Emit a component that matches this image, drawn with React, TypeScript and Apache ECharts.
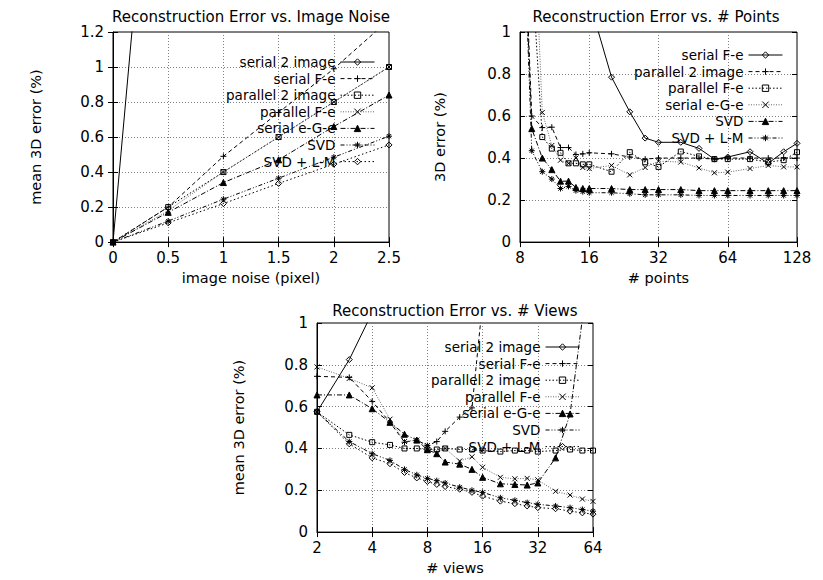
import React, { useEffect, useRef } from 'react';
import * as echarts from 'echarts';

const FONT = '"DejaVu Sans", "Liberation Sans", sans-serif';

// ---------- Plot 1: Reconstruction Error vs. Image Noise ----------
const noiseTicks = [0, 0.5, 1, 1.5, 2, 2.5];
const noiseYTicks = [0, 0.2, 0.4, 0.6, 0.8, 1.0, 1.2];
const noiseX = [0, 0.5, 1, 1.5, 2, 2.5];
const noiseSerial2Image = [0, 3.5, 7.1, 10.6, 14.1, 17.6];
const noiseSerialFe = [0, 0.2, 0.49, 0.74, 0.99, 1.27];
const noiseParallel2Image = [0, 0.2, 0.4, 0.6, 0.8, 1.0];
const noiseParallelFe = [0, 0.18, 0.4, 0.6, 0.8, 1.0];
const noiseSerialEGe = [0, 0.17, 0.34, 0.47, 0.66, 0.84];
const noiseSVD = [0, 0.12, 0.245, 0.365, 0.485, 0.605];
const noiseSVDLM = [0, 0.11, 0.22, 0.335, 0.445, 0.555];
const noiseNames = ['serial 2 image', 'serial F-e', 'parallel 2 image', 'parallel F-e', 'serial e-G-e', 'SVD', 'SVD + L-M'];

// ---------- Plot 2: Reconstruction Error vs. # Points ----------
const pointsTicks = [8, 16, 32, 64, 128];
const errTicks = [0, 0.2, 0.4, 0.6, 0.8, 1.0];
const pointsX = [8, 9, 10, 11, 12, 13, 14, 15, 16, 20, 24, 28, 32, 40, 48, 56, 64, 80, 96, 112, 128];
const ptsSerialFe = [null, null, null, null, null, null, null, null, 1.15, 0.785, 0.62, 0.495, 0.475, 0.475, 0.446, 0.395, 0.405, 0.43, 0.375, 0.43, 0.47];
const ptsParallel2Image = [2.0, 0.6, 0.545, 0.547, 0.45, 0.45, 0.417, 0.42, 0.425, 0.42, 0.405, 0.395, 0.4, 0.4, 0.4, 0.395, 0.4, 0.4, 0.4, 0.4, 0.4];
const ptsParallelFe = [null, 1.3, 0.5, 0.445, 0.425, 0.375, 0.375, 0.37, 0.37, 0.335, 0.428, 0.38, 0.358, 0.431, 0.408, 0.395, 0.395, 0.395, 0.381, 0.39, 0.428];
const ptsSerialEGe = [null, 1.8, 0.617, 0.46, 0.39, 0.375, 0.4, 0.355, 0.35, 0.365, 0.32, 0.355, 0.385, 0.381, 0.353, 0.33, 0.333, 0.35, 0.365, 0.358, 0.358];
const ptsSVD = [2.0, 0.54, 0.4, 0.345, 0.29, 0.29, 0.26, 0.255, 0.255, 0.255, 0.25, 0.25, 0.25, 0.25, 0.245, 0.245, 0.245, 0.245, 0.245, 0.245, 0.245];
const ptsSVDLM = [2.0, 0.435, 0.335, 0.3, 0.255, 0.265, 0.245, 0.24, 0.235, 0.235, 0.23, 0.225, 0.225, 0.225, 0.222, 0.222, 0.222, 0.222, 0.222, 0.222, 0.222];
const pointsNames = ['serial F-e', 'parallel 2 image', 'parallel F-e', 'serial e-G-e', 'SVD', 'SVD + L-M'];

// ---------- Plot 3: Reconstruction Error vs. # Views ----------
const viewsTicks = [2, 4, 8, 16, 32, 64];
const viewsX = [2, 3, 4, 5, 6, 7, 8, 9, 10, 12, 14, 16, 20, 24, 28, 32, 40, 48, 56, 64];
const vwSerial2Image = [0.575, 0.825, 1.05, null, null, null, null, null, null, null, null, null, null, null, null, null, null, null, null, null];
const vwSerialFe = [0.745, 0.74, 0.625, 0.525, 0.43, 0.44, 0.414, 0.433, 0.482, 0.55, 0.594, 1.1, null, null, null, null, null, null, null, null];
const vwParallel2Image = [0.575, 0.465, 0.43, 0.417, 0.4, 0.4, 0.395, 0.395, 0.4, 0.395, 0.395, 0.39, 0.385, 0.39, 0.39, 0.385, 0.39, 0.395, 0.39, 0.39];
const vwParallelFe = [0.79, 0.735, 0.69, 0.54, 0.433, 0.44, 0.414, 0.378, 0.4, 0.34, 0.36, 0.31, 0.262, 0.255, 0.257, 0.25, 0.195, 0.177, 0.158, 0.147];
const vwSerialEGe = [0.656, 0.656, 0.59, 0.525, 0.468, 0.44, 0.394, 0.375, 0.335, 0.325, 0.3, 0.262, 0.231, 0.228, 0.225, 0.235, 0.355, 0.565, 1.02, null];
const vwSVD = [0.575, 0.433, 0.375, 0.343, 0.3, 0.274, 0.257, 0.246, 0.235, 0.215, 0.2, 0.19, 0.164, 0.152, 0.141, 0.133, 0.125, 0.117, 0.108, 0.1];
const vwSVDLM = [0.575, 0.422, 0.355, 0.327, 0.285, 0.259, 0.242, 0.228, 0.218, 0.205, 0.19, 0.172, 0.148, 0.136, 0.125, 0.117, 0.112, 0.1, 0.092, 0.086];
const viewsNames = ['serial 2 image', 'serial F-e', 'parallel 2 image', 'parallel F-e', 'serial e-G-e', 'SVD', 'SVD + L-M'];

const SYM = {
  diamond: 'path://M5,0L10,5L5,10L0,5Z',
  plus: 'path://M0,5L10,5M5,0L5,10',
  square: 'path://M0,0L10,0L10,10L0,10Z',
  cross: 'path://M0,0L10,10M10,0L0,10',
  triangle: 'path://M5,0L10,9L0,9Z',
  star: 'path://M0,5L10,5M5,0L5,10M1.5,1.5L8.5,8.5M8.5,1.5L1.5,8.5',
};
const CLEAR = 'rgba(0,0,0,0)';
const STYLES: any[] = [
  { symbol: SYM.diamond, fill: CLEAR, dash: 'solid', color: '#000', size: 6 },
  { symbol: SYM.plus, fill: CLEAR, dash: [4, 3], color: '#000', size: 6 },
  { symbol: SYM.square, fill: CLEAR, dash: [1.5, 2], color: '#000', size: 5 },
  { symbol: SYM.cross, fill: CLEAR, dash: [1, 1.5], color: '#666', size: 5 },
  { symbol: SYM.triangle, fill: '#000', dash: [5, 2, 1, 2], color: '#000', size: 6 },
  { symbol: SYM.star, fill: '#000', dash: [4, 2, 1, 2, 1, 2], color: '#000', size: 6 },
  { symbol: SYM.diamond, fill: CLEAR, dash: [1.5, 2.5], color: '#000', size: 6 },
];

function makeSeries(name: string, xs: number[], ys: (number | null)[], idx: number) {
  const s = STYLES[idx];
  return {
    type: 'line',
    name,
    data: xs.map((x, i) => [x, ys[i]]),
    symbol: s.symbol,
    symbolSize: s.size,
    showAllSymbol: true,
    clip: true,
    lineStyle: { color: s.color, width: 1, type: s.dash },
    itemStyle: { color: s.fill, borderColor: '#000', borderWidth: 1 },
    emphasis: { disabled: true },
    silent: true,
  };
}

function makeOption(cfg: any) {
  const axisCommon = {
    axisLine: { show: true, lineStyle: { color: '#000', width: 1 } },
    axisTick: { show: true, inside: true, length: 5, lineStyle: { color: '#000' } },
  };
  const xBase: any =
    cfg.xLog
      ? { type: 'log', logBase: 2, min: cfg.xTicks[0], max: cfg.xTicks[cfg.xTicks.length - 1] }
      : { type: 'value', min: cfg.xTicks[0], max: cfg.xTicks[cfg.xTicks.length - 1], interval: cfg.xTicks[1] - cfg.xTicks[0] };
  const yBase: any = {
    type: 'value',
    min: cfg.yTicks[0],
    max: cfg.yTicks[cfg.yTicks.length - 1],
    interval: cfg.yTicks[1] - cfg.yTicks[0],
  };
  const nameStyle = { fontFamily: FONT, fontSize: 14.5, color: '#000' };
  const labelStyle = { fontFamily: FONT, fontSize: 15, color: '#000' };
  const split = { show: true, lineStyle: { color: '#808080', width: 1, type: [1, 2] } };
  return {
    animation: false,
    textStyle: { fontFamily: FONT },
    grid: { ...cfg.grid, show: true, borderColor: '#000', borderWidth: 1, backgroundColor: 'transparent', containLabel: false },
    xAxis: [
      {
        ...xBase,
        ...axisCommon,
        position: 'bottom',
        name: cfg.xName,
        nameLocation: 'middle',
        nameGap: cfg.xNameGap,
        nameTextStyle: nameStyle,
        axisLabel: { ...labelStyle, margin: 8 },
        splitLine: split,
      },
      {
        ...xBase,
        ...axisCommon,
        position: 'top',
        axisLine: { show: false },
        axisLabel: { show: false },
        splitLine: { show: false },
      },
    ],
    yAxis: [
      {
        ...yBase,
        ...axisCommon,
        position: 'left',
        name: cfg.yName,
        nameLocation: 'middle',
        nameGap: cfg.yNameGap,
        nameTextStyle: nameStyle,
        axisLabel: { ...labelStyle, margin: 9 },
        splitLine: split,
      },
      {
        ...yBase,
        ...axisCommon,
        position: 'right',
        axisLine: { show: false },
        axisLabel: { show: false },
        splitLine: { show: false },
      },
    ],
    legend: {
      data: cfg.names,
      orient: 'vertical',
      align: 'right',
      right: cfg.legendRight,
      top: cfg.legendTop,
      padding: 0,
      itemGap: 2.6,
      itemWidth: 34,
      itemHeight: 8,
      selectedMode: false,
      textStyle: { fontFamily: FONT, fontSize: 13.5, color: '#000', lineHeight: 14 },
      itemStyle: { borderWidth: 1 },
      lineStyle: { width: 1 },
    },
    graphic: [
      {
        type: 'text',
        x: cfg.titleX,
        y: cfg.titleY,
        style: {
          text: cfg.title,
          fontFamily: FONT,
          fontSize: 15,
          fill: '#000',
          align: 'center',
          verticalAlign: 'middle',
        },
      },
    ],
    series: cfg.series,
  };
}

const option1 = makeOption({
  title: 'Reconstruction Error vs. Image Noise',
  titleX: 251,
  titleY: 17,
  grid: { left: 113, top: 32, width: 276, height: 215 },
  xTicks: noiseTicks,
  yTicks: noiseYTicks,
  xLog: false,
  xName: 'image noise (pixel)',
  xNameGap: 26,
  yName: 'mean 3D error (%)',
  yNameGap: 70,
  names: noiseNames,
  legendRight: 36,
  legendTop: 55,
  series: [
    makeSeries(noiseNames[0], noiseX, noiseSerial2Image, 0),
    makeSeries(noiseNames[1], noiseX, noiseSerialFe, 1),
    makeSeries(noiseNames[2], noiseX, noiseParallel2Image, 2),
    makeSeries(noiseNames[3], noiseX, noiseParallelFe, 3),
    makeSeries(noiseNames[4], noiseX, noiseSerialEGe, 4),
    makeSeries(noiseNames[5], noiseX, noiseSVD, 5),
    makeSeries(noiseNames[6], noiseX, noiseSVDLM, 6),
  ],
});

const option2 = makeOption({
  title: 'Reconstruction Error vs. # Points',
  titleX: 245,
  titleY: 17,
  grid: { left: 109, top: 32, width: 277, height: 215 },
  xTicks: pointsTicks,
  yTicks: errTicks,
  xLog: true,
  xName: '# points',
  xNameGap: 26,
  yName: '3D error (%)',
  yNameGap: 73,
  names: pointsNames,
  legendRight: 40,
  legendTop: 48,
  series: [
    makeSeries(pointsNames[0], pointsX, ptsSerialFe, 0),
    makeSeries(pointsNames[1], pointsX, ptsParallel2Image, 1),
    makeSeries(pointsNames[2], pointsX, ptsParallelFe, 2),
    makeSeries(pointsNames[3], pointsX, ptsSerialEGe, 3),
    makeSeries(pointsNames[4], pointsX, ptsSVD, 4),
    makeSeries(pointsNames[5], pointsX, ptsSVDLM, 5),
  ],
});

const option3 = makeOption({
  title: 'Reconstruction Error vs. # Views',
  titleX: 455,
  titleY: 21,
  grid: { left: 317, top: 33, width: 276, height: 215 },
  xTicks: viewsTicks,
  yTicks: errTicks,
  xLog: true,
  xName: '# views',
  xNameGap: 26,
  yName: 'mean 3D error (%)',
  yNameGap: 71,
  names: viewsNames,
  legendRight: 243,
  legendTop: 50,
  series: [
    makeSeries(viewsNames[0], viewsX, vwSerial2Image, 0),
    makeSeries(viewsNames[1], viewsX, vwSerialFe, 1),
    makeSeries(viewsNames[2], viewsX, vwParallel2Image, 2),
    makeSeries(viewsNames[3], viewsX, vwParallelFe, 3),
    makeSeries(viewsNames[4], viewsX, vwSerialEGe, 4),
    makeSeries(viewsNames[5], viewsX, vwSVD, 5),
    makeSeries(viewsNames[6], viewsX, vwSVDLM, 6),
  ],
});

function Chart({ option, style }: { option: any; style: React.CSSProperties }) {
  const ref = useRef<HTMLDivElement>(null);
  useEffect(() => {
    if (!ref.current) return;
    const chart = echarts.init(ref.current, null, { renderer: 'svg' });
    chart.setOption(option);
    return () => chart.dispose();
  }, [option]);
  return <div ref={ref} style={{ position: 'absolute', ...style }} />;
}

export default function App() {
  return (
    <div style={{ position: 'absolute', left: 0, top: 0, width: 823, height: 580, background: '#fff' }}>
      <Chart option={option1} style={{ left: 0, top: 0, width: 411, height: 290 }} />
      <Chart option={option2} style={{ left: 411, top: 0, width: 412, height: 290 }} />
      <Chart option={option3} style={{ left: 0, top: 290, width: 823, height: 290 }} />
    </div>
  );
}
